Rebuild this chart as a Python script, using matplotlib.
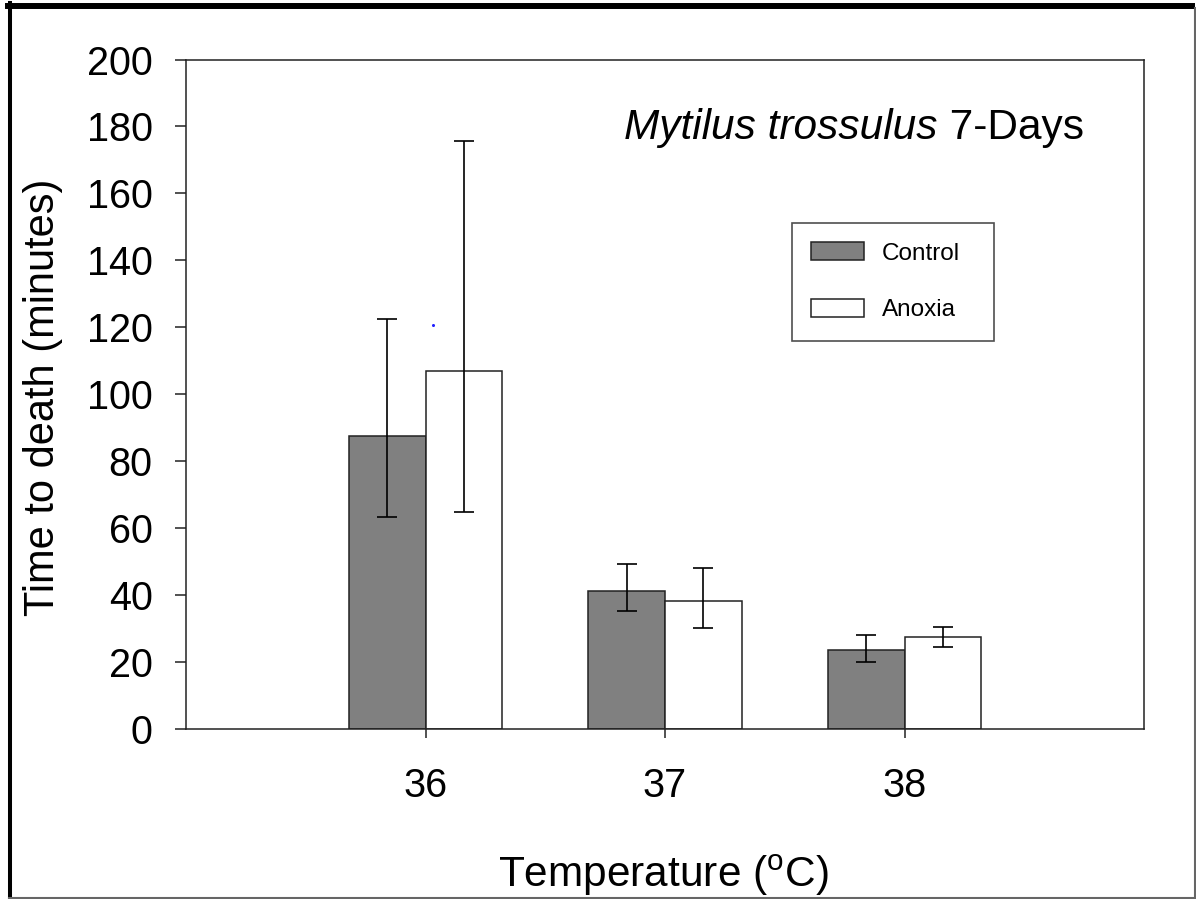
import numpy as np
import matplotlib
matplotlib.use("Agg")
import matplotlib.pyplot as plt
from matplotlib.lines import Line2D

# data (minutes)
temps = [36, 37, 38]
control_mean = [87.6, 41.1, 23.6]
control_err_lo = [24.3, 5.9, 3.7]
control_err_hi = [34.8, 8.2, 4.4]
anoxia_mean = [106.9, 38.1, 27.5]
anoxia_err_lo = [42.1, 8.0, 3.0]
anoxia_err_hi = [68.8, 10.1, 3.1]
stray_dot = (36.03, 120.7)   # small blue speck present in the original

GREY = "#808080"
W = 1196
H = 899

plt.rcParams["font.family"] = ["Liberation Sans", "DejaVu Sans"]
plt.rcParams["mathtext.fontset"] = "custom"
plt.rcParams["mathtext.rm"] = "Liberation Sans"

fig = plt.figure(figsize=(W / 100, H / 100), dpi=100)
ax = fig.add_axes([186 / W, 1 - 729 / H, (1144 - 186) / W, (729 - 59.5) / H])

x = np.array(temps, float)
bw = 0.32
kw_err = dict(ecolor="black", elinewidth=1.2, capsize=7.2, capthick=1.2)

ax.bar(x - bw / 2, control_mean, bw, color=GREY, edgecolor="#222222",
       linewidth=1.1, label="Control", zorder=2)
ax.bar(x + bw / 2, anoxia_mean, bw, color="white", edgecolor="#222222",
       linewidth=1.1, label="Anoxia", zorder=2)
ax.errorbar(x - bw / 2, control_mean, yerr=[control_err_lo, control_err_hi],
            fmt="none", zorder=3, **kw_err)
ax.errorbar(x + bw / 2, anoxia_mean, yerr=[anoxia_err_lo, anoxia_err_hi],
            fmt="none", zorder=3, **kw_err)
ax.plot([stray_dot[0]], [stray_dot[1]], marker="o", ms=2.2, color="#2020ff",
        mec="none", ls="none")

ax.set_xlim(35, 39)
ax.set_ylim(0, 200)
ax.set_xticks(temps)
ax.set_xticklabels([str(t) for t in temps])
ax.set_yticks(np.arange(0, 201, 20))

for s in ax.spines.values():
    s.set_linewidth(1.1)
    s.set_color("#222222")
ax.tick_params(axis="y", direction="out", length=8, width=1.1, pad=16,
               labelsize=28.5, color="#222222")
ax.tick_params(axis="x", direction="out", length=6.5, width=1.1, pad=21,
               labelsize=28.5, color="#222222")

ax.set_ylabel("Time to death (minutes)", fontsize=30)
ax.yaxis.set_label_coords(-0.138, 0.495)
ax.yaxis.label.set_va("baseline")
ax.set_xlabel(r"Temperature ($\mathregular{^{o}}$C)", fontsize=30.5)
ax.xaxis.set_label_coords(0.498, -0.236)
ax.xaxis.label.set_va("baseline")

# title inside the plot: italic species name + plain suffix
t1 = ax.text(36.83, 176.4, "Mytilus trossulus", style="italic", fontsize=30.5,
             va="baseline", ha="left")
ax.annotate(" 7-Days", xy=(1, 0), xycoords=t1, fontsize=30.5,
            va="bottom", ha="left")

leg = ax.legend(loc="upper left", bbox_to_anchor=(0.6326, 0.7558, 0.2109, 0.0),
                mode="expand", fontsize=17.5, frameon=True, fancybox=False,
                borderpad=0.8, handlelength=2.16, handleheight=0.76,
                handletextpad=0.72, labelspacing=1.4, borderaxespad=0)
leg.get_frame().set_edgecolor("#222222")
leg.get_frame().set_linewidth(1.2)

# outer frame of the screenshot
def px_line(x0, y0, x1, y1, lw, color):
    fig.add_artist(Line2D([x0 / W, x1 / W], [1 - y0 / H, 1 - y1 / H],
                          transform=fig.transFigure, lw=lw, color=color))

px_line(8, 5.5, 1192, 5.5, 4.3, "black")
px_line(9.5, 3, 9.5, 899, 2.9, "black")
px_line(1194.5, 8, 1194.5, 899, 1.5, "#666666")
px_line(9, 897.5, 1196, 897.5, 1.5, "#666666")

fig.savefig("out.png", dpi=100)
